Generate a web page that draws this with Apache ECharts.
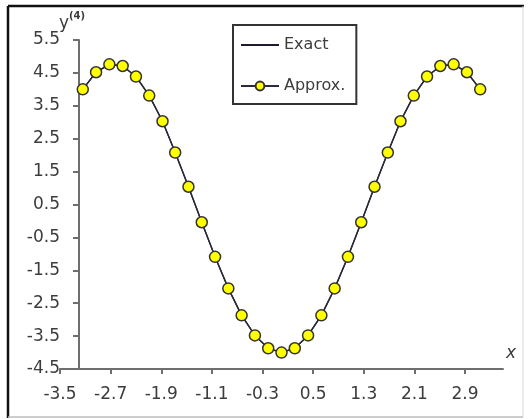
<!DOCTYPE html>
<html>
<head>
<meta charset="utf-8">
<script src="https://cdn.jsdelivr.net/npm/echarts@6/dist/echarts.min.js"></script>
<style>
  html, body { margin: 0; padding: 0; background: #ffffff; }
  #chart { width: 529px; height: 419px; }
</style>
</head>
<body>
<div id="chart"></div>
<script>
// Sample abscissae (step of pi/15 over [-pi, pi])
const xValues = [
  -3.14, -2.93, -2.72, -2.51, -2.30, -2.09, -1.88, -1.68, -1.47, -1.26, -1.05,
  -0.84, -0.63, -0.42, -0.21, 0.00, 0.21, 0.42, 0.63, 0.84, 1.05, 1.26,
  1.47, 1.68, 1.88, 2.09, 2.30, 2.51, 2.72, 2.93, 3.14
];
// Fourth derivative, exact solution
const exactValues = [
  4.00, 4.52, 4.76, 4.71, 4.39, 3.81, 3.03, 2.08, 1.04, -0.04, -1.09,
  -2.05, -2.87, -3.48, -3.87, -4.00, -3.87, -3.48, -2.87, -2.05, -1.09, -0.04,
  1.04, 2.08, 3.03, 3.81, 4.39, 4.71, 4.76, 4.52, 4.00
];
// Fourth derivative, approximation
const approxValues = [
  4.00, 4.52, 4.76, 4.71, 4.39, 3.81, 3.03, 2.08, 1.04, -0.04, -1.09,
  -2.05, -2.87, -3.48, -3.87, -4.00, -3.87, -3.48, -2.87, -2.05, -1.09, -0.04,
  1.04, 2.08, 3.03, 3.81, 4.39, 4.71, 4.76, 4.52, 4.00
];
const xTicks = [-3.5, -2.7, -1.9, -1.1, -0.3, 0.5, 1.3, 2.1, 2.9];
const yTicks = [-4.5, -3.5, -2.5, -1.5, -0.5, 0.5, 1.5, 2.5, 3.5, 4.5, 5.5];
const seriesNames = ['Exact', 'Approx.'];

const FONT = 'DejaVu Sans';
const AXIS_COLOR = '#6e6e6e';
const TEXT_COLOR = '#3c3c3c';

const pairs = (ys) => xValues.map((x, i) => [x, ys[i]]);

const chart = echarts.init(document.getElementById('chart'), null, { renderer: 'canvas' });

chart.setOption({
  animation: false,
  backgroundColor: '#ffffff',
  textStyle: { fontFamily: FONT },
  grid: { left: 60, right: 26, top: 40, bottom: 50, containLabel: false },
  legend: {
    left: 233,
    top: 25,
    orient: 'vertical',
    data: [
      // plain line key for the exact curve: hide the legend symbol
      { name: seriesNames[0], itemStyle: { opacity: 0 } },
      { name: seriesNames[1] }
    ],
    itemWidth: 38,
    itemHeight: 11,
    itemGap: 21,
    padding: [10, 11, 8, 7],
    borderColor: '#333333',
    borderWidth: 2,
    backgroundColor: '#ffffff',
    textStyle: { fontFamily: FONT, fontSize: 16, color: TEXT_COLOR, lineHeight: 20 }
  },
  xAxis: {
    type: 'value',
    min: -3.5,
    max: 3.5,
    name: 'x',
    nameLocation: 'end',
    nameGap: 3,
    nameTextStyle: {
      fontFamily: FONT, fontSize: 17, fontStyle: 'italic', color: TEXT_COLOR,
      verticalAlign: 'bottom', padding: [0, 0, 7, 0]
    },
    axisLine: { show: true, onZero: false, lineStyle: { color: AXIS_COLOR, width: 2 } },
    axisTick: { show: true, customValues: xTicks, length: 5, lineStyle: { color: AXIS_COLOR, width: 2 } },
    axisLabel: {
      customValues: xTicks,
      margin: 17,
      fontFamily: FONT, fontSize: 17, color: TEXT_COLOR,
      formatter: (v) => String(v)
    },
    splitLine: { show: false }
  },
  yAxis: {
    type: 'value',
    min: -4.5,
    max: 5.5,
    offset: -19,
    name: '{y|y}{s|(4)}',
    nameLocation: 'end',
    nameGap: 6,
    nameTextStyle: {
      padding: [0, 14, 0, 0],
      rich: {
        y: { fontFamily: FONT, fontSize: 17, color: TEXT_COLOR, verticalAlign: 'bottom', lineHeight: 20 },
        s: { fontFamily: FONT, fontSize: 10, fontWeight: 'bold', color: TEXT_COLOR, verticalAlign: 'top', lineHeight: 20 }
      }
    },
    axisLine: { show: true, onZero: false, lineStyle: { color: AXIS_COLOR, width: 2 } },
    axisTick: { show: true, customValues: yTicks, length: 6, lineStyle: { color: AXIS_COLOR, width: 2 } },
    axisLabel: {
      customValues: yTicks,
      margin: 19,
      fontFamily: FONT, fontSize: 17, color: TEXT_COLOR,
      formatter: (v) => String(v)
    },
    splitLine: { show: false }
  },
  series: [
    {
      name: seriesNames[0],
      type: 'line',
      data: pairs(exactValues),
      symbol: 'none',
      lineStyle: { color: '#1c1c2e', width: 1.5 },
      itemStyle: { color: '#1c1c2e' },
      z: 2
    },
    {
      name: seriesNames[1],
      type: 'line',
      data: pairs(approxValues),
      symbol: 'circle',
      symbolSize: 11,
      lineStyle: { color: '#2a2a3a', width: 1.2 },
      itemStyle: { color: '#ffff00', borderColor: '#333333', borderWidth: 1.5 },
      z: 3
    }
  ],
  graphic: [
    // frame around the whole chart
    { type: 'line', shape: { x1: 8, y1: 6, x2: 524, y2: 6 }, style: { stroke: '#111111', lineWidth: 2.5 } },
    { type: 'line', shape: { x1: 8, y1: 6, x2: 8, y2: 418 }, style: { stroke: '#111111', lineWidth: 2.5 } },
    { type: 'line', shape: { x1: 523, y1: 6, x2: 523, y2: 417 }, style: { stroke: '#d8d8d8', lineWidth: 1 } },
    { type: 'line', shape: { x1: 8, y1: 417, x2: 523, y2: 417 }, style: { stroke: '#bdbdbd', lineWidth: 1.5 } }
  ]
});
</script>
</body>
</html>
